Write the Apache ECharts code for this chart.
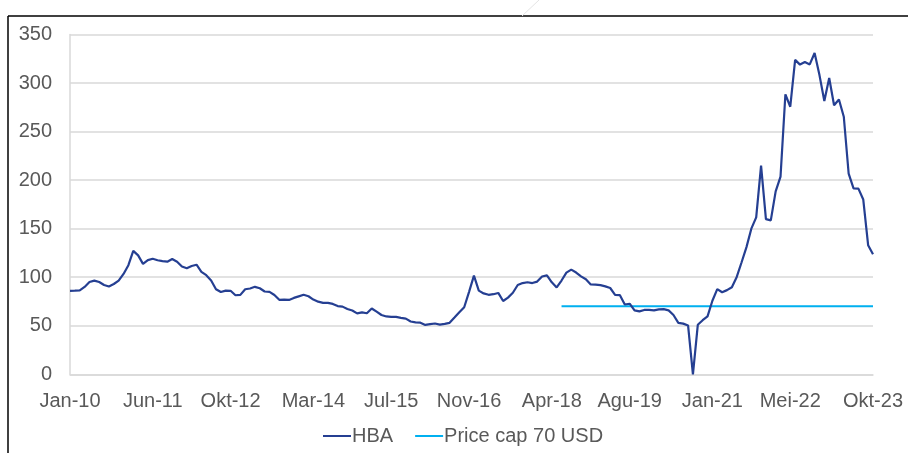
<!DOCTYPE html>
<html>
<head>
<meta charset="utf-8">
<script src="https://cdn.jsdelivr.net/npm/echarts@6/dist/echarts.min.js"></script>
<style>
  html, body { margin: 0; padding: 0; background: #fff; }
  #chart { width: 908px; height: 453px; }
</style>
</head>
<body>
<div id="chart"></div>
<script>
// Monthly HBA coal reference price (USD/ton), Jan 2010 – Okt 2023
const monthNames = ['Jan', 'Feb', 'Mar', 'Apr', 'Mei', 'Jun', 'Jul', 'Agu', 'Sep', 'Okt', 'Nov', 'Des'];
const startYear = 2010;

const hbaValues = [
  86.0, 86.2, 86.5, 90.0, 95.0, 96.5, 95.0, 92.0, 90.5, 93.0, 96.5, 103.4,   // 2010
  112.4, 127.1, 122.5, 113.7, 117.6, 119.0, 117.5, 116.5, 116.0, 118.7, 116.0, 111.0, // 2011
  109.3, 111.6, 112.9, 105.6, 102.1, 96.7, 87.6, 84.7, 86.2, 86.0, 81.4, 81.8, // 2012
  87.6, 88.4, 90.1, 88.6, 85.3, 84.9, 81.7, 76.7, 76.9, 76.6, 78.7, 80.3,      // 2013
  81.9, 80.4, 77.0, 74.8, 73.6, 73.6, 72.5, 70.3, 69.7, 67.3, 65.7, 62.7,      // 2014
  63.8, 62.9, 67.8, 64.5, 61.1, 59.6, 59.2, 59.1, 58.2, 57.4, 54.4, 53.5,      // 2015
  53.2, 50.9, 51.6, 52.3, 51.2, 51.9, 53.0, 58.4, 63.9, 69.1, 84.9, 101.7,     // 2016
  86.2, 83.3, 81.9, 82.5, 83.8, 75.5, 79.0, 84.0, 92.0, 94.0, 94.8, 94.0,      // 2017
  95.5, 100.7, 101.9, 94.8, 89.5, 96.6, 104.7, 107.8, 104.8, 100.9, 97.9, 92.5, // 2018
  92.4, 91.8, 90.6, 88.9, 81.9, 81.5, 71.9, 72.7, 65.8, 64.8, 66.3, 66.3,      // 2019
  65.9, 66.9, 67.1, 65.8, 61.1, 53.0, 52.2, 50.3, 0, 51.0, 55.7, 59.7,         // 2020
  75.8, 87.8, 84.5, 86.7, 89.7, 100.3, 115.4, 131.0, 150.0, 161.6, 215.0, 159.8, // 2021
  158.5, 188.4, 203.7, 288.4, 275.6, 323.9, 319.0, 321.6, 319.2, 331.0, 308.2, 281.5, // 2022
  305.2, 277.1, 283.1, 265.3, 206.6, 191.6, 191.2, 180.0, 133.0, 123.6          // 2023
];

// Price cap of 70 USD, applied from Jun 2018 onwards
const priceCap = 70;
const priceCapStart = 'Jun-18';

// Tick labels shown on the date axis
const tickLabels = ['Jan-10', 'Jun-11', 'Okt-12', 'Mar-14', 'Jul-15', 'Nov-16',
                    'Apr-18', 'Agu-19', 'Jan-21', 'Mei-22', 'Okt-23'];

const yTicks = { min: 0, max: 350, step: 50 };

// Build month categories like "Jan-10"
const categories = hbaValues.map((_, i) => {
  const m = i % 12;
  const y = startYear + Math.floor(i / 12);
  return monthNames[m] + '-' + String(y).slice(2);
});
const capStartIdx = categories.indexOf(priceCapStart);
const capValues = categories.map((_, i) => (i >= capStartIdx ? priceCap : '-'));

const FONT = 'Liberation Sans, Arial, Helvetica, sans-serif';
const TEXT = '#595959';
const GRID = '#d9d9d9';

const chart = echarts.init(document.getElementById('chart'), null, { renderer: 'canvas' });

chart.setOption({
  backgroundColor: '#ffffff',
  animation: false,
  grid: { left: 70, right: 35, top: 34.5, bottom: 78.7, containLabel: false },
  legend: {
    left: 318,
    top: 421,
    itemWidth: 28,
    itemHeight: 2,
    itemGap: 22,
    icon: 'rect',
    textStyle: { fontFamily: FONT, fontSize: 20, color: TEXT, padding: [0, 0, 0, -4] },
    data: ['HBA', 'Price cap 70 USD']
  },
  xAxis: {
    type: 'category',
    data: categories,
    boundaryGap: false,
    axisLine: { show: true, lineStyle: { color: GRID, width: 1.5 } },
    axisTick: { show: false },
    splitLine: { show: false },
    axisLabel: {
      interval: (idx, val) => tickLabels.includes(val),
      margin: 17,
      fontFamily: FONT,
      fontSize: 20,
      color: TEXT,
      showMinLabel: true,
      showMaxLabel: true
    }
  },
  yAxis: {
    type: 'value',
    min: yTicks.min,
    max: yTicks.max,
    interval: yTicks.step,
    axisLine: { show: true, lineStyle: { color: GRID, width: 1.5 } },
    axisTick: { show: false },
    splitLine: { show: true, lineStyle: { color: GRID, width: 1.5 } },
    axisLabel: { margin: 18, fontFamily: FONT, fontSize: 20, color: TEXT }
  },
  series: [
    {
      name: 'HBA',
      type: 'line',
      data: hbaValues,
      showSymbol: false,
      smooth: false,
      color: '#253f92',
      lineStyle: { color: '#253f92', width: 2.2 },
      z: 3
    },
    {
      name: 'Price cap 70 USD',
      type: 'line',
      data: capValues,
      showSymbol: false,
      color: '#00b0f0',
      lineStyle: { color: '#00b0f0', width: 2 },
      z: 2
    }
  ],
  graphic: [
    // frame edges along the top and left
    { type: 'line', shape: { x1: 8, y1: 16, x2: 908, y2: 16 }, style: { stroke: '#000', lineWidth: 1.5 } },
    { type: 'line', shape: { x1: 8, y1: 16, x2: 8, y2: 453 }, style: { stroke: '#000', lineWidth: 1.5 } },
    // faint diagonal stroke above the frame
    { type: 'line', shape: { x1: 522, y1: 16, x2: 539, y2: 0 }, style: { stroke: '#e4e4e4', lineWidth: 1 } }
  ]
});
</script>
</body>
</html>
